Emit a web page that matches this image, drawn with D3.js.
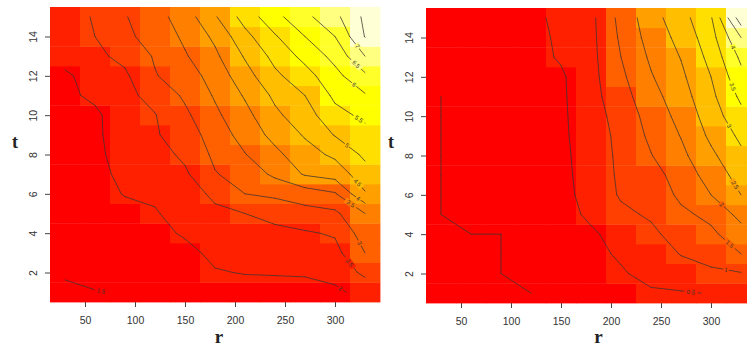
<!DOCTYPE html>
<html><head><meta charset="utf-8">
<script src="https://cdn.jsdelivr.net/npm/d3@7"></script>
<style>body{margin:0;background:#fff}svg{display:block}</style>
</head><body>
<svg id="chart" width="747" height="347"></svg>
<script>
// ---- data ----
const rValues = [30, 60, 90, 120, 150, 180, 210, 240, 270, 300, 330];
const tValues = [1, 2, 3, 4, 5, 6, 7, 8, 9, 10, 11, 12, 13, 14, 15];
// rows: t = 1 .. 15, columns: r = 30 .. 330
const leftValues = [
  [1.45,1.48,1.53,1.63,1.72,1.78,1.82,1.84,1.86,1.88,2.20],
  [1.53,1.65,1.70,1.78,1.85,1.97,2.02,2.03,2.04,2.20,2.60],
  [1.60,1.72,1.77,1.85,1.88,2.10,2.15,2.18,2.20,2.35,3.00],
  [1.65,1.78,1.82,1.88,2.05,2.25,2.32,2.38,2.45,2.55,3.25],
  [1.70,1.83,1.88,1.97,2.15,2.40,2.50,2.65,2.82,2.90,3.50],
  [1.74,1.86,2.02,2.06,2.27,2.60,3.00,3.10,3.25,3.45,4.45],
  [1.78,1.88,2.10,2.15,2.42,2.97,3.20,3.60,4.05,4.20,4.80],
  [1.82,1.89,2.20,2.30,2.60,3.10,3.48,3.88,4.30,4.60,5.10],
  [1.85,1.90,2.28,2.45,2.75,3.22,3.70,4.15,4.55,5.03,5.35],
  [1.87,1.90,2.32,2.48,2.90,3.40,3.85,4.40,4.78,5.35,5.60],
  [1.89,2.10,2.38,2.65,3.08,3.55,4.05,4.60,5.00,5.60,5.95],
  [1.90,2.25,2.42,2.97,3.25,3.70,4.30,4.90,5.30,5.85,6.40],
  [2.23,2.40,2.62,3.05,3.45,3.90,4.55,5.15,5.65,6.15,7.00],
  [2.30,2.50,2.92,3.15,3.60,4.10,4.85,5.45,6.00,6.50,7.52],
  [2.35,2.53,2.97,3.30,3.75,4.45,5.20,5.85,6.37,6.87,7.60]
];
const rightValues = [
  [0.00,0.00,0.00,0.00,0.10,0.20,0.35,0.45,0.46,0.52,0.75],
  [0.00,0.00,0.00,0.08,0.15,0.30,0.46,0.62,0.80,0.90,0.97],
  [0.00,0.00,0.00,0.12,0.20,0.40,0.55,0.76,1.02,1.20,1.50],
  [0.00,0.00,0.00,0.15,0.25,0.42,0.70,0.90,1.20,1.40,1.80],
  [0.00,0.03,0.06,0.18,0.30,0.60,0.90,1.06,1.40,1.62,2.15],
  [0.00,0.05,0.10,0.20,0.33,0.70,1.05,1.18,1.60,2.00,2.50],
  [0.00,0.07,0.13,0.22,0.36,0.72,1.08,1.30,1.72,2.20,2.70],
  [0.00,0.09,0.16,0.24,0.38,0.74,1.10,1.48,1.88,2.40,2.90],
  [0.00,0.10,0.18,0.26,0.40,0.77,1.12,1.60,2.02,2.60,3.10],
  [0.00,0.12,0.20,0.28,0.41,0.80,1.18,1.70,2.15,2.75,3.35],
  [0.00,0.14,0.22,0.30,0.42,0.83,1.30,1.82,2.28,2.88,3.60],
  [0.03,0.16,0.25,0.32,0.43,0.85,1.40,1.96,2.40,3.00,3.85],
  [0.06,0.19,0.28,0.34,0.55,0.86,1.50,2.08,2.52,3.15,4.10],
  [0.10,0.22,0.32,0.37,0.57,0.87,1.58,2.20,2.65,3.30,4.50],
  [0.15,0.26,0.36,0.40,0.60,0.88,1.65,2.30,2.80,3.45,5.30]
];
const leftLevels = [1.5, 2, 2.5, 3, 3.5, 4, 4.5, 5, 5.5, 6, 6.5, 7, 7.5];
const rightLevels = [0, 0.5, 1, 1.5, 2, 2.5, 3, 3.5, 4, 4.5, 5];
const xTicks = [50, 100, 150, 200, 250, 300];
const yTicks = [2, 4, 6, 8, 10, 12, 14];
const heatColors = ["#FF0000","#FF2000","#FF4000","#FF6000","#FF8000","#FF9F00",
                    "#FFBF00","#FFDF00","#FFFF00","#FFFF2A","#FFFF80","#FFFFD5"];
const xLabel = "r", yLabel = "t";

// ---- drawing ----
const svg = d3.select("#chart");
const panels = [
  {values: leftValues, levels: leftLevels, px: [50, 380], py: [302, 7], labelMaxR: 326},
  {values: rightValues, levels: rightLevels, px: [426, 756], py: [303, 8], labelMaxR: 324}
];

function segmentsFor(values, level) {
  const segs = [];
  for (let j = 0; j < tValues.length - 1; j++) {
    for (let i = 0; i < rValues.length - 1; i++) {
      const c = [[i, j], [i + 1, j], [i + 1, j + 1], [i, j + 1]];
      const v = c.map(([a, b]) => values[b][a]);
      const pts = [];
      for (let k = 0; k < 4; k++) {
        const k2 = (k + 1) % 4;
        const a = v[k] > level, b = v[k2] > level;
        if (a !== b) {
          const f = (level - v[k]) / (v[k2] - v[k]);
          pts.push([
            rValues[c[k][0]] + f * (rValues[c[k2][0]] - rValues[c[k][0]]),
            tValues[c[k][1]] + f * (tValues[c[k2][1]] - tValues[c[k][1]])
          ]);
        }
      }
      if (pts.length === 2) segs.push(pts);
      else if (pts.length === 4) {
        const center = (v[0] + v[1] + v[2] + v[3]) / 4;
        if ((center > level) === (v[0] > level)) { segs.push([pts[0], pts[1]]); segs.push([pts[2], pts[3]]); }
        else { segs.push([pts[3], pts[0]]); segs.push([pts[1], pts[2]]); }
      }
    }
  }
  return segs.filter(s => Math.hypot(s[0][0] - s[1][0], s[0][1] - s[1][1]) > 1e-6);
}

panels.forEach((p, pi) => {
  const x = d3.scaleLinear().domain([15, 345]).range(p.px);
  const y = d3.scaleLinear().domain([0.5, 15.5]).range(p.py);
  const flat = p.values.flat();
  const color = d3.scaleQuantize().domain(d3.extent(flat)).range(heatColors);
  const g = svg.append("g");

  // cells
  p.values.forEach((row, j) => {
    row.forEach((val, i) => {
      const r = rValues[i], t = tValues[j];
      g.append("rect")
        .attr("x", x(r - 15)).attr("y", y(t + 0.5))
        .attr("width", x(r + 15) - x(r - 15) + 0.4)
        .attr("height", y(t - 0.5) - y(t + 0.5) + 0.4)
        .attr("fill", color(val));
    });
  });

  // contours
  const cg = g.append("g");
  p.levels.forEach(level => {
    const segs = segmentsFor(p.values, level);
    if (!segs.length) return;
    const d = segs.map(s => `M${x(s[0][0])},${y(s[0][1])}L${x(s[1][0])},${y(s[1][1])}`).join("");
    cg.append("path").attr("d", d).attr("fill", "none")
      .attr("stroke", "#3b3330").attr("stroke-width", 0.9)
      .attr("stroke-linecap", "round").attr("stroke-opacity", 0.85);
    // label
    if (level === 0) return;
    const totalLen = d3.sum(segs, s => Math.hypot(x(s[0][0]) - x(s[1][0]), y(s[0][1]) - y(s[1][1])));
    if (totalLen < 40) return;
    let best = null;
    segs.forEach(s => {
      const mr = (s[0][0] + s[1][0]) / 2;
      if (mr <= p.labelMaxR && (!best || mr > best.mr)) best = {s, mr};
    });
    if (!best) return;
    const s = best.s;
    const x0 = x(s[0][0]), y0 = y(s[0][1]), x1 = x(s[1][0]), y1 = y(s[1][1]);
    let ang = Math.atan2(y1 - y0, x1 - x0) * 180 / Math.PI;
    if (ang > 90) ang -= 180; if (ang <= -90) ang += 180;
    const mx = (x0 + x1) / 2, my = (y0 + y1) / 2;
    const txt = String(level);
    const ci = d3.minIndex(rValues, r => Math.abs(r - best.mr));
    const cj = d3.minIndex(tValues, t => Math.abs(t - (s[0][1] + s[1][1]) / 2));
    const lg = cg.append("g").attr("transform", `translate(${mx},${my}) rotate(${ang})`);
    lg.append("rect").attr("x", -txt.length * 1.9 - 1).attr("y", -3)
      .attr("width", txt.length * 3.8 + 2).attr("height", 6)
      .attr("fill", color(p.values[cj][ci]));
    lg.append("text").text(txt).attr("text-anchor", "middle").attr("dy", "0.35em")
      .attr("font-family", "Liberation Sans, Arial, sans-serif").attr("font-size", 6)
      .attr("fill", "#333");
  });

  // axes
  const xa = g.append("g").attr("transform", `translate(0,${p.py[0]})`)
    .call(d3.axisBottom(x).tickValues(xTicks).tickSize(5).tickPadding(9.3).tickFormat(d3.format("d")));
  const ya = g.append("g").attr("transform", `translate(${p.px[0]},0)`)
    .call(d3.axisLeft(y).tickValues(yTicks).tickSize(5).tickFormat(d3.format("d")));
  [xa, ya].forEach(a => {
    a.select(".domain").remove();
    a.selectAll(".tick line").attr("stroke", "#444");
    a.selectAll(".tick text").attr("fill", "#333")
      .attr("font-family", "Liberation Sans, Arial, Helvetica, sans-serif").attr("font-size", 10.5);
  });
  ya.selectAll(".tick text")
    .attr("transform", "rotate(-90)").attr("text-anchor", "middle")
    .attr("x", 0).attr("y", -13.5).attr("dy", 0);

  // axis titles
  g.append("text").text(xLabel)
    .attr("x", (p.px[0] + Math.min(p.px[1], 747)) / 2 + (pi === 0 ? 4 : 12)).attr("y", 343)
    .attr("text-anchor", "middle").attr("font-family", "Liberation Serif, Times New Roman, serif")
    .attr("font-weight", "bold").attr("font-size", 19).attr("fill", "#222");
  g.append("text").text(yLabel)
    .attr("x", p.px[0] - 35).attr("y", 148)
    .attr("text-anchor", "middle").attr("font-family", "Liberation Serif, Times New Roman, serif")
    .attr("font-weight", "bold").attr("font-size", 18).attr("fill", "#222");
});
</script>
</body></html>
